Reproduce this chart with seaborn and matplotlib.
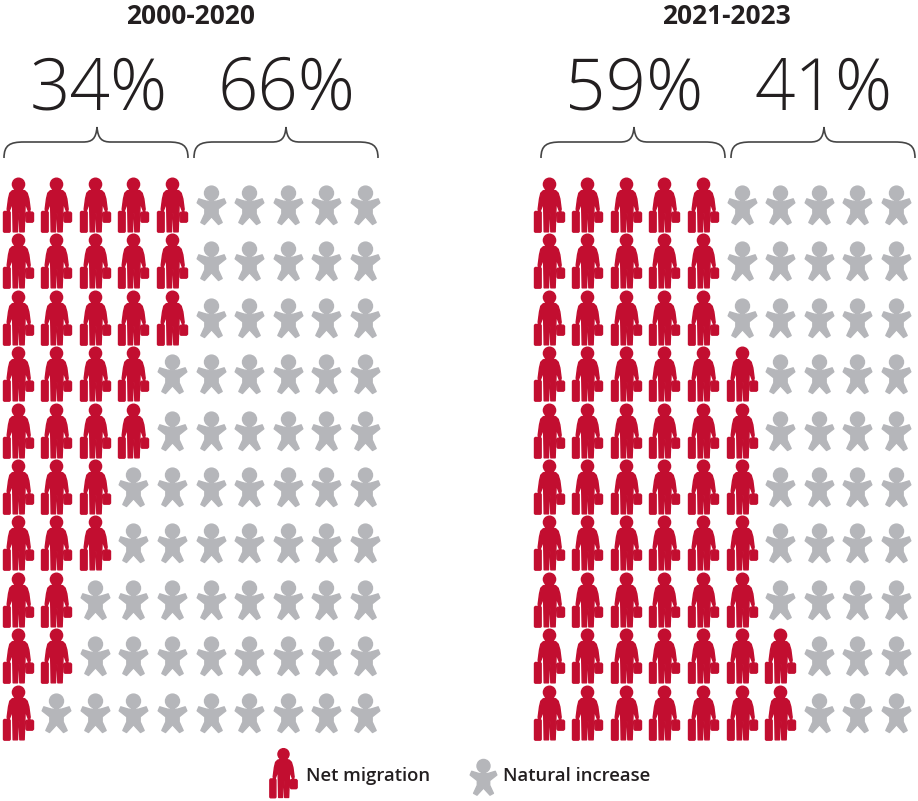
import numpy as np
import pandas as pd
import matplotlib
matplotlib.use("Agg")
import matplotlib.pyplot as plt
from matplotlib.path import Path
from matplotlib.patches import PathPatch
import seaborn as sns

sns.set_theme(style="white")
plt.rcParams['font.family'] = ['Open Sans', 'DejaVu Sans']

# ---- data ----
panel_titles = ["2000-2020", "2021-2023"]
share_migration = [34, 59]
share_natural = [66, 41]
migration_row_counts_a = [5, 5, 5, 4, 4, 3, 3, 2, 2, 1]
migration_row_counts_b = [5, 5, 5, 6, 6, 6, 6, 6, 7, 7]
legend_labels = ["Net migration", "Natural increase"]

RED = "#C20E30"
GREY = "#B5B6BA"
TEXT = "#231F20"
W, H = 918, 801


def poly(points):
    pts = [(x, y) for x, y in points]
    pts.append(pts[0])
    codes = [Path.MOVETO] + [Path.LINETO] * (len(points) - 1) + [Path.CLOSEPOLY]
    return Path(pts, codes)


def circ(cx, cy, r):
    c = Path.circle((cx, cy), r)
    return Path(c.vertices.copy(), c.codes.copy())


def z(points, x0, y0):
    """zoomed-icon trace (3x, y down) -> pixel units about the icon cell centre"""
    return [((x - x0) / 3, (y0 - y) / 3) for x, y in points]


def ccw(points):
    a = 0
    for (x1, y1), (x2, y2) in zip(points, points[1:] + points[:1]):
        a += x1 * y2 - x2 * y1
    return points if a > 0 else points[::-1]


# traces are inset slightly: the rounded marker edge brings them back to full size
PERSON = Path.make_compound_path(
    circ(0, 21.2, 6.1),
    poly(ccw(z([(47, 58), (35, 61), (28, 68), (24, 85), (20, 116), (22, 124), (27, 120),
                (36, 96), (37, 130), (38, 184), (51, 184), (53, 130), (56, 130), (58, 184),
                (71, 184), (73, 130), (74, 96), (83, 120), (87, 124), (89, 116), (85, 85),
                (80, 68), (73, 61), (61, 58)], 54, 105))),
    poly(ccw(z([(11, 123), (27, 123), (29, 126), (29, 183), (27, 185), (11, 185), (9, 183), (9, 126)], 54, 105))),
    poly(ccw(z([(79, 125), (96, 125), (99, 128), (99, 152), (96, 155), (79, 155), (77, 152), (77, 128)], 54, 105))),
)
BABY = Path.make_compound_path(
    circ(0, 12.4, 7.0),
    poly(ccw(z([(142, 80), (165, 87), (195, 87), (218, 80), (223, 92), (200, 110), (200, 125),
                (212, 151), (201, 157), (180, 134), (159, 157), (148, 151), (160, 125),
                (160, 110), (137, 92)], 180, 100))),
)
EDGE = 1.0


def marker_area(path, factor=1.0):
    # matplotlib scales custom markers by their largest coordinate
    half_px = np.abs(path.vertices).max() * factor
    return (2 * half_px * 72 / 100) ** 2


fig = plt.figure(figsize=(W / 100, H / 100), dpi=100, facecolor="white")

COL_STEP, ROW_STEP = 38.6, 56.4
origins_x = [17.5, 548.5]
origin_y = 205


def panel(counts, x0):
    ax = fig.add_axes([(x0 - COL_STEP / 2) / W,
                       1 - (origin_y - ROW_STEP / 2 + 10 * ROW_STEP) / H,
                       10 * COL_STEP / W, 10 * ROW_STEP / H])
    rows = [(c, r, "m" if c < n else "n") for r, n in enumerate(counts) for c in range(10)]
    df = pd.DataFrame(rows, columns=["col", "row", "kind"])
    for kind, path, color in (("n", BABY, GREY), ("m", PERSON, RED)):
        sns.scatterplot(data=df[df["kind"] == kind], x="col", y="row", marker=path,
                        s=marker_area(path), color=color, edgecolor=color, linewidth=EDGE,
                        ax=ax, legend=False, clip_on=False)
    ax.set_xlim(-0.5, 9.5)
    ax.set_ylim(9.5, -0.5)
    ax.axis("off")


panel(migration_row_counts_a, origins_x[0])
panel(migration_row_counts_b, origins_x[1])

# overlay in pixel coordinates for annotation furniture
ov = fig.add_axes([0, 0, 1, 1], zorder=5)
ov.patch.set_alpha(0)


def brace(xa, xb, tip):
    top, mid, bot = 127, 142, 158
    verts = [(xa, bot), (xa, mid + 3), (xa + 6, mid), (xa + 20, mid),
             (tip - 14, mid), (tip - 5, mid), (tip - 1, mid - 3), (tip, top),
             (tip + 1, mid - 3), (tip + 5, mid), (tip + 14, mid),
             (xb - 20, mid), (xb - 6, mid), (xb, mid + 3), (xb, bot)]
    codes = [Path.MOVETO, Path.CURVE4, Path.CURVE4, Path.CURVE4,
             Path.LINETO, Path.CURVE4, Path.CURVE4, Path.CURVE4,
             Path.CURVE4, Path.CURVE4, Path.CURVE4,
             Path.LINETO, Path.CURVE4, Path.CURVE4, Path.CURVE4]
    ov.add_patch(PathPatch(Path(verts, codes), fc="none", ec="#454545", lw=1.2))


layouts = [(190.5, (4, 188, 97), (194, 378, 286)), (726.5, (541, 725, 634), (731, 915, 824))]
for title, a, b, (cx, ba, bb) in zip(panel_titles, share_migration, share_natural, layouts):
    ov.text(cx, 16, title, ha="center", va="center", fontsize=19, fontweight="bold", color=TEXT)
    brace(*ba)
    brace(*bb)
    for val, br in ((a, ba), (b, bb)):
        ov.text(br[2] + (1.5 if val == 34 else 0), 91, f"{val}%", ha="center", va="center",
                fontsize=51, fontweight=300, color=TEXT)

# legend
sns.scatterplot(x=[283], y=[773], marker=PERSON, s=marker_area(PERSON, 0.91), color=RED,
                edgecolor=RED, linewidth=EDGE, ax=ov, legend=False, clip_on=False)
sns.scatterplot(x=[483], y=[777], marker=BABY, s=marker_area(BABY, 0.93), color=GREY,
                edgecolor=GREY, linewidth=EDGE, ax=ov, legend=False, clip_on=False)
ov.set_xlim(0, W)
ov.set_ylim(H, 0)
ov.axis("off")
for x, label in zip((306, 503), legend_labels):
    ov.text(x, 776, label, ha="left", va="center", fontsize=13.3, fontweight=600, color=TEXT)

fig.savefig("out.png", dpi=100, facecolor="white")
